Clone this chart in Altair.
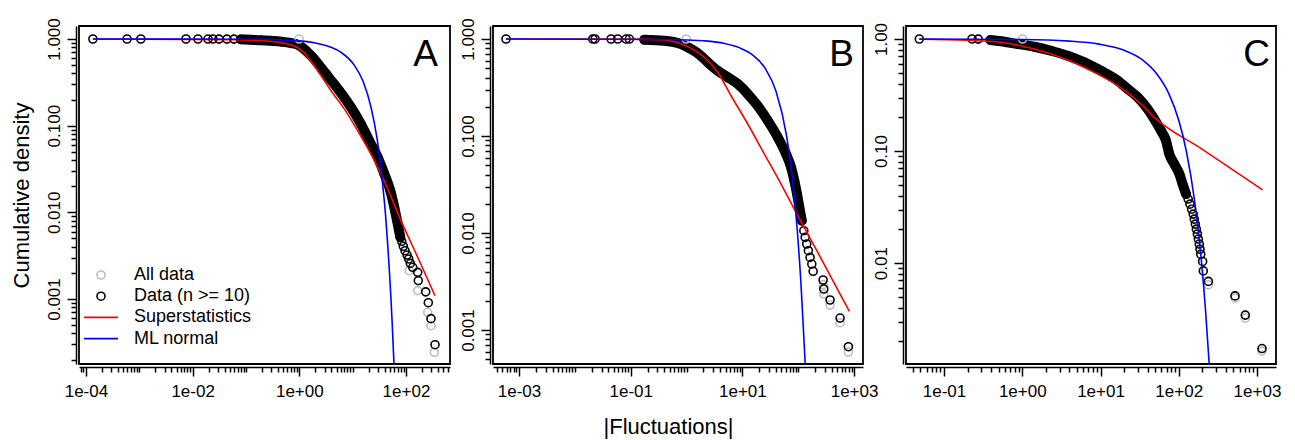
import math

import altair as alt
import pandas as pd

FONT = "Liberation Sans"

SERIES = ["All data", "Data (n >= 10)", "Superstatistics", "ML normal"]
COLORS = ["#bdbdbd", "#000000", "#ff0000", "#0000ff"]
SHAPES = ["circle", "circle", "M-4.25,0H4.25", "M-4.25,0H4.25"]

# ---------------- panel A ----------------
a_pts_x = [1.35e-4, 5.9e-4, 1.07e-3, 7.5e-3, 0.0126, 0.0194, 0.024, 0.0312, 0.044, 0.0596,
           83.2, 89.1, 95.9, 104.5, 112.5, 120.5, 133.7, 166, 170, 234, 262, 294, 350]
a_pts_y = [1.0, 1.0, 1.0, 1.0, 1.0, 0.999, 0.999, 0.998, 0.998, 0.997,
           0.00463, 0.00406, 0.00361, 0.00322, 0.0029, 0.00258, 0.00232, 0.00203, 0.00163,
           0.00121, 0.000906, 0.000593, 0.000297]
a_band_x = [0.0805, 0.124, 0.191, 0.294, 0.453, 0.698, 0.944, 1.334, 1.78, 3.16, 5.62, 9.3,
            14.3, 20.5, 29.5, 39.3, 50.8, 60.4, 70, 78.3]
a_band_y = [0.99, 0.979, 0.969, 0.953, 0.933, 0.899, 0.859, 0.733, 0.615, 0.395, 0.253, 0.163,
            0.1045, 0.0671, 0.0432, 0.0277, 0.0178, 0.01143, 0.00733, 0.00515]
a_gray_x = [0.99, 115, 166, 255, 294, 340]
a_gray_y = [1.0, 0.00212, 0.00125, 0.000702, 0.000492, 0.000243]
a_red_x = [1.35e-4, 0.0524, 0.22, 0.698, 1.156, 2.21, 3.93, 6.98, 12.4, 22.1, 36.5, 80.5, 166, 350]
a_red_y = [1.0, 0.982, 0.956, 0.859, 0.721, 0.431, 0.253, 0.156, 0.0875, 0.0471, 0.0254,
           0.00801, 0.00303, 0.00109]
a_blue_x = [1.35e-4, 0.12, 0.7, 2.0, 3.9, 6.0, 10.7, 15.6, 22, 28.6, 33, 36.5, 41, 44, 52, 55, 60, 63]
a_blue_y = [1.0, 0.994, 0.965, 0.9, 0.805, 0.704, 0.5, 0.327, 0.165, 0.072, 0.038, 0.021, 0.01,
            0.0056, 0.00107, 0.00054, 0.00016, 0.000075]

# ---------------- panel B ----------------
b_pts_x = [5.85e-4, 0.0209, 0.023, 0.0445, 0.0586, 0.0826, 0.0946,
           126, 133, 142, 152, 163, 175, 185, 279, 287, 372, 562, 791]
b_pts_y = [1.0, 1.0, 1.0, 1.0, 1.0, 0.999, 0.999,
           0.01057, 0.00903, 0.00771, 0.00657, 0.00561, 0.00479, 0.00403, 0.00328, 0.00265,
           0.00204, 0.00133, 0.000673]
b_band_x = [0.175, 0.401, 0.697, 1.05, 1.59, 2.40, 3.62, 5.47, 8.26, 12.5, 18.8, 28.5, 43.0,
            60.6, 74.5, 85.3, 95.3, 105, 116]
b_band_y = [0.983, 0.961, 0.909, 0.821, 0.712, 0.575, 0.471, 0.403, 0.344, 0.271, 0.205, 0.144,
            0.097, 0.0652, 0.0476, 0.0346, 0.0252, 0.0184, 0.0134]
b_gray_x = [0.98, 279, 287, 372, 562, 791]
b_gray_y = [1.0, 0.00294, 0.00235, 0.00181, 0.00119, 0.000593]
b_red_x = [5.85e-4, 0.101, 0.401, 1.05, 2.08, 3.62, 6.27, 12.5, 24.8, 49.3, 91.4, 224, 824]
b_red_y = [1.0, 0.998, 0.977, 0.834, 0.648, 0.454, 0.26, 0.133, 0.0652, 0.032, 0.0163, 0.00632,
           0.00156]
b_blue_x = [5.85e-4, 0.5, 2.0, 4.8, 9, 15, 25.5, 40, 62, 80, 97, 112, 124, 133, 140]
b_blue_y = [1.0, 0.989, 0.958, 0.9, 0.81, 0.69, 0.5, 0.29, 0.1, 0.034, 0.01, 0.003, 0.001,
            0.00045, 0.0002]

# ---------------- panel C ----------------
c_pts_x = [0.0483, 0.228, 0.274,
           132, 139, 146, 153, 158, 163, 168, 173, 178, 183, 187, 191, 202, 206, 239,
           524, 709, 1159]
c_pts_y = [1.0, 1.0, 0.998,
           0.0373, 0.0336, 0.0303, 0.0274, 0.0247, 0.0223, 0.0201, 0.0182, 0.0164, 0.0148,
           0.0133, 0.012, 0.01035, 0.00853, 0.00687, 0.0051, 0.00344, 0.00173]
c_band_x = [0.391, 0.535, 0.875, 1.43, 2.33, 3.81, 6.21, 10.1, 16.6, 22.3, 29.9, 40.1, 48.7,
            59.3, 68.7, 75.7, 87.7, 102, 112, 124]
c_band_y = [0.98, 0.954, 0.902, 0.853, 0.786, 0.709, 0.619, 0.521, 0.425, 0.358, 0.302, 0.237,
            0.193, 0.152, 0.124, 0.094, 0.0766, 0.0624, 0.0507, 0.0413]
c_gray_x = [1.01, 239, 524, 709, 1159]
c_gray_y = [1.0, 0.0064, 0.00487, 0.00323, 0.00164]
c_red_x = [0.0483, 0.2, 0.535, 1.43, 3.81, 8.34, 16.6, 33, 48.7, 192, 1183]
c_red_y = [0.995, 0.975, 0.934, 0.814, 0.649, 0.504, 0.383, 0.263, 0.2, 0.1057, 0.0451]
c_blue_x = [0.0483, 1.0, 4.0, 9.6, 20, 35, 51, 75, 100, 125, 160, 196, 220, 245, 260]
c_blue_y = [1.0, 0.99, 0.958, 0.9, 0.792, 0.645, 0.5, 0.324, 0.188, 0.1, 0.0353, 0.01, 0.0038,
            0.00126, 0.00063]


def log_ticks(lo, hi):
    vals = []
    for e in range(math.floor(lo), math.ceil(hi) + 1):
        for k in range(1, 10):
            v = k * 10.0 ** e
            if 10 ** lo <= v <= 10 ** hi:
                vals.append(v)
    return vals


def log_axis(lo, hi, exps, labels, vertical=False, title=None, **extra):
    majors = [10.0 ** e for e in exps]
    test = " || ".join(f"abs(datum.value / {m!r} - 1) < 1e-6" for m in majors)
    expr = "''"
    for m, lab in zip(reversed(majors), reversed(labels)):
        expr = f"abs(datum.value / {m!r} - 1) < 1e-6 ? '{lab}' : ({expr})"
    kw = dict(
        values=log_ticks(lo, hi), labelExpr=expr, title=title,
        tickSize={"condition": {"test": test, "value": 9}, "value": 5},
        offset=3, labelOverlap=False, labelFlush=False, grid=False,
    )
    if vertical:
        kw.update(labelAngle=270, labelAlign="center", labelBaseline="bottom", labelPadding=4)
    else:
        kw.update(labelPadding=7)
    kw.update(extra)
    return alt.Axis(**kw)


LEGEND = alt.Legend(
    title=None, orient="none", legendX=13, legendY=240, padding=0,
    labelFont=FONT, labelFontSize=18, labelColor="black", labelOffset=24,
    symbolSize=64, symbolStrokeWidth=1.6, symbolFillColor="transparent", rowPadding=3.2,
)


def panel(pts, band, gray, red, blue, xd, yd, xt, yt, letter, letter_dx, width,
          xtitle=None, ytitle=None, legend=False, xextra=None, yextra=None):
    lg = LEGEND if legend else None
    xs = alt.Scale(type="log", domain=[10 ** xd[0], 10 ** xd[1]], nice=False)
    ys = alt.Scale(type="log", domain=[10 ** yd[0], 10 ** yd[1]], nice=False)
    X = alt.X("x:Q", scale=xs, axis=log_axis(xd[0], xd[1], xt[0], xt[1], title=xtitle,
                                             **(xextra or {})))
    Y = alt.Y("y:Q", scale=ys, axis=log_axis(yd[0], yd[1], yt[0], yt[1], vertical=True,
                                             title=ytitle, **(yextra or {})))
    color = alt.Color("series:N", scale=alt.Scale(domain=SERIES, range=COLORS), legend=lg)
    shape = alt.Shape("series:N", scale=alt.Scale(domain=SERIES, range=SHAPES), legend=lg)

    pts_df = pd.concat([
        pd.DataFrame({"x": gray[0], "y": gray[1], "series": SERIES[0]}),
        pd.DataFrame({"x": pts[0], "y": pts[1], "series": SERIES[1]}),
    ])
    band_df = pd.DataFrame({"x": band[0], "y": band[1]})
    red_df = pd.DataFrame({"x": red[0], "y": red[1], "series": SERIES[2]})
    blue_df = pd.DataFrame({"x": blue[0], "y": blue[1], "series": SERIES[3]})

    # the dense run of overlapping circles reads as a solid black band
    band_line = alt.Chart(band_df).mark_line(
        color="black", strokeWidth=10, strokeCap="round", strokeJoin="round",
        interpolate="monotone", clip=True,
    ).encode(x=X, y=Y)
    band_pts = alt.Chart(band_df).mark_point(
        filled=False, size=64, strokeWidth=1.6, opacity=1, clip=True, color="black"
    ).encode(x=X, y=Y)
    points = alt.Chart(pts_df).mark_point(
        filled=False, size=64, strokeWidth=1.6, opacity=1, clip=True
    ).encode(x=X, y=Y, color=color, shape=shape)
    red_line = alt.Chart(red_df).mark_line(strokeWidth=1.6, interpolate="monotone", clip=True).encode(
        x=X, y=Y, color=color)
    blue_line = alt.Chart(blue_df).mark_line(strokeWidth=1.6, interpolate="monotone", clip=True).encode(
        x=X, y=Y, color=color)
    # panel letter pinned to the upper-right corner of the scale domain
    tag = alt.Chart(pd.DataFrame({"t": [letter]})).mark_text(
        align="right", baseline="alphabetic", fontSize=37, font=FONT, color="black",
        dx=letter_dx, dy=40,
    ).encode(x=alt.XDatum(10 ** xd[1]), y=alt.YDatum(10 ** yd[1]), text="t:N")

    return alt.layer(band_line, band_pts, points, red_line, blue_line, tag).properties(
        width=width, height=338,
    )


pa = panel((a_pts_x, a_pts_y), (a_band_x, a_band_y), (a_gray_x, a_gray_y),
           (a_red_x, a_red_y), (a_blue_x, a_blue_y),
           (-4.13, 2.825), (-3.75, 0.15),
           ([-4, -2, 0, 2], ["1e-04", "1e-02", "1e+00", "1e+02"]),
           ([-3, -2, -1, 0], ["0.001", "0.010", "0.100", "1.000"]),
           "A", -12, 371, ytitle="Cumulative density", legend=True,
           yextra=dict(titlePadding=12))
pb = panel((b_pts_x, b_pts_y), (b_band_x, b_band_y), (b_gray_x, b_gray_y),
           (b_red_x, b_red_y), (b_blue_x, b_blue_y),
           (-3.466, 3.16), (-3.35, 0.134),
           ([-3, -1, 1, 3], ["1e-03", "1e-01", "1e+01", "1e+03"]),
           ([-3, -2, -1, 0], ["0.001", "0.010", "0.100", "1.000"]),
           "B", -9, 370, xtitle="|Fluctuations|",
           xextra=dict(titlePadding=17, titleX=175))
pc = panel((c_pts_x, c_pts_y), (c_band_x, c_band_y), (c_gray_x, c_gray_y),
           (c_red_x, c_red_y), (c_blue_x, c_blue_y),
           (-1.486, 3.243), (-2.90, 0.116),
           ([-1, 0, 1, 2, 3], ["1e-01", "1e+00", "1e+01", "1e+02", "1e+03"]),
           ([-2, -1, 0], ["0.01", "0.10", "1.00"]),
           "C", -6, 370)

chart = (
    alt.hconcat(pa, pb, pc, spacing=43, bounds="flush")
    .resolve_scale(x="independent", y="independent", color="independent", shape="independent")
    .properties(padding={"left": 1, "top": 8, "right": 5, "bottom": 2})
    .configure(font=FONT)
    .configure_view(stroke="black", strokeWidth=1.8)
    .configure_axis(
        labelFont=FONT, labelFontSize=17, labelColor="black",
        titleFont=FONT, titleFontSize=22, titleFontWeight="normal", titleColor="black",
        domainColor="black", domainWidth=1.5, tickColor="black", tickWidth=1.5,
    )
)

chart.save("out.html", embed_options={"renderer": "svg", "actions": False})
